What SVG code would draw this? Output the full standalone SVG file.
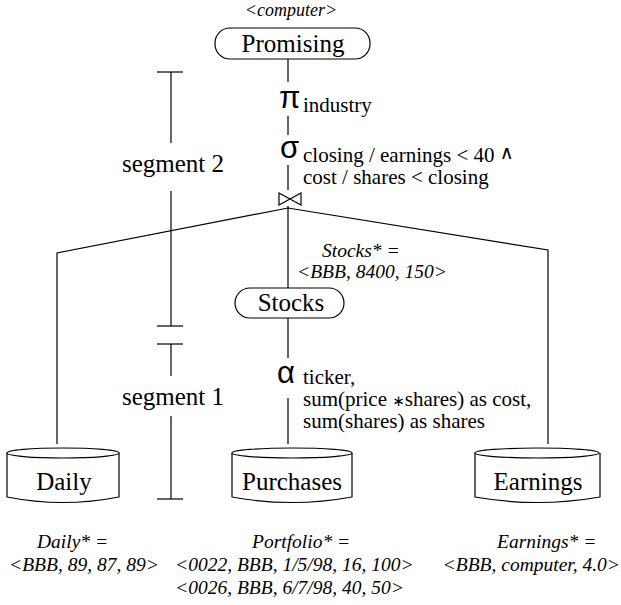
<svg xmlns="http://www.w3.org/2000/svg" width="621" height="605" viewBox="0 0 621 605">
<style>
.ln{fill:none;stroke:#000;stroke-width:1.2}
.box{fill:#fff;stroke:#000;stroke-width:1.2}
.lbl{font-family:'Liberation Serif','Times New Roman',Tinos,'DejaVu Serif',serif;font-size:25px;fill:#000}
.sub{font-family:'Liberation Serif','Times New Roman',Tinos,'DejaVu Serif',serif;font-size:21px;fill:#000}
.it{font-family:'Liberation Serif','Times New Roman',Tinos,'DejaVu Serif',serif;font-size:19.5px;font-style:italic;fill:#000}
.gr{font-family:'Liberation Sans',Arial,'DejaVu Sans',sans-serif;font-size:31px;fill:#000}
.sm{font-family:'DejaVu Sans',sans-serif;font-size:15px}
.wedge{font-family:'DejaVu Sans',sans-serif;font-size:19px}
</style>
<rect width="621" height="605" fill="#fff"/>
<g id="connectors">
<line class="ln" x1="288" y1="59" x2="288" y2="82"/>
<line class="ln" x1="288" y1="116" x2="288" y2="135"/>
<line class="ln" x1="288" y1="165" x2="288" y2="190"/>
<polyline class="ln" points="57,444 57,253 288,208 548,250 548,444"/>
<line class="ln" x1="288" y1="206" x2="288" y2="288"/>
<line class="ln" x1="288" y1="318" x2="288" y2="358"/>
<line class="ln" x1="288" y1="398" x2="288" y2="444"/>
</g>
<g id="promising">
<text class="it" x="291" y="16" text-anchor="middle" style="font-size:18px">&lt;computer&gt;</text>
<rect class="box" x="215" y="28" width="155" height="31" rx="15"/>
<text class="lbl" x="293" y="52" text-anchor="middle">Promising</text>
</g>
<g id="project">
<text class="gr" x="279" y="108">π</text>
<text class="sub" x="303" y="112">industry</text>
</g>
<g id="select">
<text class="gr" x="280" y="158">σ</text>
<text class="sub" x="303" y="162">closing / earnings &lt; 40 <tspan class="wedge" dy="-3">∧</tspan></text>
<text class="sub" x="303" y="184">cost / shares &lt; closing</text>
</g>
<g id="join">
<path class="ln" d="M279,193 L279,205 L301,193 L301,205 Z"/>
</g>
<g id="stocks">
<text class="it" x="322" y="257">Stocks* =</text>
<text class="it" x="297" y="278">&lt;BBB, 8400, 150&gt;</text>
<rect class="box" x="235" y="288" width="109" height="30" rx="15"/>
<text class="lbl" x="291" y="311" text-anchor="middle">Stocks</text>
</g>
<g id="aggregate">
<text class="gr" x="277" y="383">α</text>
<text class="sub" x="303" y="384">ticker,</text>
<text class="sub" x="303" y="406">sum(price <tspan class="sm">∗</tspan>shares) as cost,</text>
<text class="sub" x="303" y="428">sum(shares) as shares</text>
</g>
<g id="daily">
<path class="box" d="M7,453 L7,497 Q63,508 119,497 L119,453"/>
<ellipse class="box" cx="63" cy="453" rx="56" ry="5"/>
<text class="lbl" x="64" y="490" text-anchor="middle">Daily</text>
<text class="it" x="37" y="548">Daily* =</text>
<text class="it" x="9" y="571">&lt;BBB, 89, 87, 89&gt;</text>
</g>
<g id="purchases">
<path class="box" d="M232,453 L232,497 Q292,508 352,497 L352,453"/>
<ellipse class="box" cx="292" cy="453" rx="60" ry="5"/>
<text class="lbl" x="292" y="490" text-anchor="middle">Purchases</text>
<text class="it" x="252" y="548">Portfolio* =</text>
<text class="it" x="175" y="571">&lt;0022, BBB, 1/5/98, 16, 100&gt;</text>
<text class="it" x="175" y="594">&lt;0026, BBB, 6/7/98, 40, 50&gt;</text>
</g>
<g id="earnings">
<path class="box" d="M475,453 L475,497 Q537,508 600,497 L600,453"/>
<ellipse class="box" cx="537" cy="453" rx="62" ry="5"/>
<text class="lbl" x="538" y="490" text-anchor="middle">Earnings</text>
<text class="it" x="497" y="548">Earnings* =</text>
<text class="it" x="620" y="571" text-anchor="end">&lt;BBB, computer, 4.0&gt;</text>
</g>
<g id="segment2">
<line class="ln" x1="157" y1="72" x2="183" y2="72"/>
<line class="ln" x1="171" y1="72" x2="171" y2="143"/>
<line class="ln" x1="171" y1="191" x2="171" y2="326"/>
<line class="ln" x1="157" y1="326" x2="183" y2="326"/>
<text class="lbl" x="173" y="172" text-anchor="middle">segment 2</text>
</g>
<g id="segment1">
<line class="ln" x1="157" y1="344" x2="183" y2="344"/>
<line class="ln" x1="171" y1="344" x2="171" y2="376"/>
<line class="ln" x1="171" y1="416" x2="171" y2="499"/>
<line class="ln" x1="157" y1="499" x2="183" y2="499"/>
<text class="lbl" x="173" y="405" text-anchor="middle">segment 1</text>
</g>
</svg>
